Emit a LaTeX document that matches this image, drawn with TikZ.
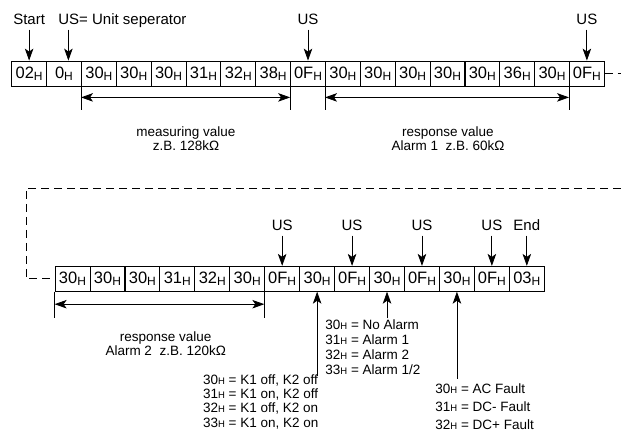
\documentclass[tikz,border=0pt]{standalone}
\usepackage{fontspec}
\setmainfont{Liberation Sans}
\usetikzlibrary{arrows.meta}

\newcommand{\hx}[1]{#1{\fontsize{12}{12}\selectfont\raisebox{-2.5pt}{H}}}
\newcommand{\hsm}[1]{#1{\fontsize{9.5}{9.5}\selectfont H}}

\begin{document}
\begin{tikzpicture}[
    >={Stealth[length=12pt,width=8.5pt,inset=3pt]},
    x=1pt, y=-1pt,
    line width=0.8pt,
    cell/.style={draw,minimum width=34.9pt,minimum height=25pt,inner sep=0pt,
                 font=\fontsize{16.5}{17}\selectfont},
    lbl/.style={inner sep=0pt,font=\fontsize{15}{16}\selectfont},
    note/.style={align=center,inner sep=0pt,anchor=north},
    codes/.style={align=left,inner sep=0pt,anchor=north west},
    pointer/.style={->,shorten <=4pt},
    link/.style={dash pattern=on 8pt off 5pt},
    dim/.style={<->},
  ]
  \useasboundingbox (0,0) rectangle (621,443);

  % --- first telegram row ---
  \foreach \lab [count=\i] in {02,0,30,30,30,31,32,38,0F,30,30,30,30,30,36,30,0F}
    \node[cell] (t\i) at (-5.73+34.86*\i,73.5) {\hx{\lab}};

  % --- markers above the first row ---
  \node[lbl,anchor=base] (start) at (t1.north |- 0,25) {Start};
  \node[lbl,anchor=base west] (usdef) at (58,25) {US= Unit seperator};
  \node[lbl,anchor=base] (us9) at (t9.north |- 0,25) {US};
  \node[lbl,anchor=base] (us17) at (t17.north |- 0,25) {US};
  \draw[pointer] (start.south) -- (t1.north);
  \draw[->] ([xshift=10.4pt,yshift=-1pt]usdef.south west) -- ([xshift=10.4pt]usdef.south west |- t2.north);
  \draw[pointer] (us9.south) -- (t9.north);
  \draw[pointer] (us17.south) -- (t17.north);

  % --- measuring value / alarm 1 spans ---
  \foreach \c in {t3,t9,t10,t17}
    \draw (\c.south west) -- ++(0,24);
  \draw[dim] ([yshift=-11pt]t3.south west) -- ([yshift=-11pt]t9.south west);
  \draw[dim] ([yshift=-11pt]t10.south west) -- ([yshift=-11pt]t17.south west);
  \node[note,font=\fontsize{13.5}{14}\selectfont] (meas) at (186,126.6)
    {measuring value\\z.B. 128kΩ};
  \node[note,font=\fontsize{13.5}{14}\selectfont] (resp1) at (448,126.6)
    {response value\\Alarm 1\ \ z.B. 60kΩ};

  % --- continuation to the second row ---
  \coordinate (wrapR) at (621,188);
  \coordinate (wrapL) at (26,188);
  \draw[link] (t17.east) -- ++(17,0);

  % --- second telegram row ---
  \foreach \lab [count=\i] in {30,30,30,31,32,30,0F,30,0F,30,0F,30,0F,03}
    \node[cell] (b\i) at (37.525+34.95*\i,278.8) {\hx{\lab}};
  \draw[link] (wrapR) -- (wrapL) |- (b1.west);

  % --- markers above the second row ---
  \foreach \i/\t in {7/US,9/US,11/US,13/US,14/End} {
    \node[lbl,anchor=base] (u\i) at (b\i.north |- 0,231) {\t};
    \draw[pointer] (u\i.south) -- (b\i.north);
  }

  % --- alarm 2 span ---
  \draw (b1.south west) -- ++(0,26);
  \draw (b7.south west) -- ++(0,26);
  \draw[dim] ([yshift=-12.5pt]b1.south west) -- ([yshift=-12.5pt]b7.south west);
  \node[note,font=\fontsize{13.5}{14}\selectfont] (resp2) at (165.7,331)
    {response value\\Alarm 2\ \ z.B. 120kΩ};

  % --- code tables below the second row ---
  \node[codes,font=\fontsize{13.5}{14.3}\selectfont] (relay) at (202.7,374)
    {\hsm{30} = K1 off, K2 off\\\hsm{31} = K1 on, K2 off\\
     \hsm{32} = K1 off, K2 on\\\hsm{33} = K1 on, K2 on};
  \node[codes,font=\fontsize{13.5}{15}\selectfont] (alarm) at (325,319.5)
    {\hsm{30} = No Alarm\\\hsm{31} = Alarm 1\\\hsm{32} = Alarm 2\\\hsm{33} = Alarm 1/2};
  \node[codes,font=\fontsize{13.5}{18}\selectfont] (fault) at (435,383)
    {\hsm{30} = AC Fault\\\hsm{31} = DC- Fault\\\hsm{32} = DC+ Fault};
  \draw[->] ([yshift=-2pt]b8.south |- relay.north) -- (b8.south);
  \draw[->] ([yshift=1pt]b10.south |- alarm.north) -- (b10.south);
  \draw[->] ([yshift=4pt]b12.south |- fault.north) -- (b12.south);

\end{tikzpicture}
\end{document}
